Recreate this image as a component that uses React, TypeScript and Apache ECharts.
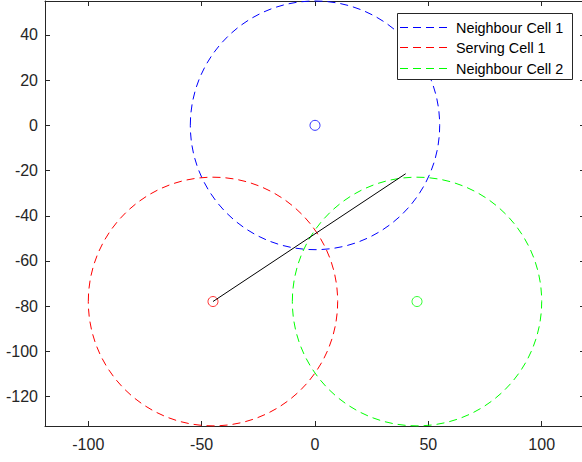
import React, { useEffect, useRef } from "react";
import * as echarts from "echarts";

const cellNames = ["Neighbour Cell 1", "Serving Cell 1", "Neighbour Cell 2"];
const cellX = [0, -45, 45];
const cellY = [0, -77.94, -77.94];
const cellRadius = [55, 55, 55];
const cellColors = ["#0000ff", "#ff0000", "#00ff00"];

const linkX = [-45, 40];
const linkY = [-77.94, -21.4];

const xTicks = [-100, -50, 0, 50, 100];
const yTicks = [-120, -100, -80, -60, -40, -20, 0, 20, 40];

const FONT = "'Liberation Sans', Arial, Helvetica, sans-serif";
const AXIS_COLOR = "#262626";

export default function App() {
  const ref = useRef<HTMLDivElement>(null);

  useEffect(() => {
    if (!ref.current) return;
    const chart = echarts.init(ref.current, undefined, { renderer: "svg" });

    const circleSeries = cellNames.map((name, i) => ({
      type: "custom",
      name,
      xAxisIndex: 0,
      yAxisIndex: 0,
      data: [[cellX[i], cellY[i], cellRadius[i]]],
      renderItem: (params: any, api: any) => {
        const c = api.coord([api.value(0), api.value(1)]);
        const s = api.size([api.value(2), api.value(2)]);
        return {
          type: "ellipse",
          shape: { cx: c[0], cy: c[1], rx: s[0], ry: s[1] },
          style: {
            fill: "none",
            stroke: cellColors[i],
            lineWidth: 1,
            lineDash: [8, 5],
          },
        };
      },
      z: 2,
    }));

    const markerSeries = cellNames.map((name, i) => ({
      type: "scatter",
      name: name + " centre",
      data: [[cellX[i], cellY[i]]],
      symbol: "circle",
      symbolSize: 10,
      itemStyle: {
        color: "rgba(0,0,0,0)",
        borderColor: cellColors[i],
        borderWidth: 1,
      },
      z: 3,
    }));

    const legendRowsY = [27.5, 47.5, 68.5];
    const legendGraphics: any[] = [
      {
        id: "legend-box",
        type: "rect",
        shape: { x: 397.5, y: 13.5, width: 175, height: 66 },
        style: { fill: "#ffffff", stroke: AXIS_COLOR, lineWidth: 1 },
        z: 100,
      },
    ];
    cellNames.forEach((name, i) => {
      legendGraphics.push({
        id: "legend-line-" + i,
        type: "line",
        shape: { x1: 400, y1: legendRowsY[i], x2: 448, y2: legendRowsY[i] },
        style: { stroke: cellColors[i], lineWidth: 1, lineDash: [8, 5] },
        z: 101,
      });
      legendGraphics.push({
        id: "legend-text-" + i,
        type: "text",
        x: 456,
        y: legendRowsY[i],
        style: {
          text: name,
          fill: "#000000",
          font: `14.4px ${FONT}`,
          verticalAlign: "middle",
          textAlign: "left",
        },
        z: 101,
      });
    });

    const xRange = { min: -119.1, max: 119.1 };
    const yRange = { min: -133, max: 55 };

    chart.setOption({
      animation: false,
      backgroundColor: "#ffffff",
      grid: {
        left: 45,
        width: 540,
        top: 1,
        bottom: 36,
        containLabel: false,
        outerBoundsMode: "none",
      },
      xAxis: [
        {
          type: "value",
          position: "bottom",
          ...xRange,
          axisLine: { show: true, onZero: false, lineStyle: { color: AXIS_COLOR, width: 1 } },
          axisTick: { show: true, inside: true, length: 5, customValues: xTicks, lineStyle: { color: AXIS_COLOR } },
          axisLabel: {
            show: true,
            customValues: xTicks,
            color: AXIS_COLOR,
            fontSize: 16,
            fontFamily: FONT,
            margin: 10,
          },
          splitLine: { show: false },
        },
        {
          type: "value",
          position: "top",
          ...xRange,
          axisLine: { show: true, onZero: false, lineStyle: { color: AXIS_COLOR, width: 1 } },
          axisTick: { show: true, inside: true, length: 5, customValues: xTicks, lineStyle: { color: AXIS_COLOR } },
          axisLabel: { show: false },
          splitLine: { show: false },
        },
      ],
      yAxis: [
        {
          type: "value",
          position: "left",
          ...yRange,
          axisLine: { show: true, onZero: false, lineStyle: { color: AXIS_COLOR, width: 1 } },
          axisTick: { show: true, inside: true, length: 5, customValues: yTicks, lineStyle: { color: AXIS_COLOR } },
          axisLabel: {
            show: true,
            customValues: yTicks,
            color: AXIS_COLOR,
            fontSize: 16,
            fontFamily: FONT,
            margin: 7,
          },
          splitLine: { show: false },
        },
        {
          type: "value",
          position: "right",
          ...yRange,
          axisLine: { show: true, onZero: false, lineStyle: { color: AXIS_COLOR, width: 1 } },
          axisTick: { show: true, inside: true, length: 5, customValues: yTicks, lineStyle: { color: AXIS_COLOR } },
          axisLabel: { show: false },
          splitLine: { show: false },
        },
      ],
      series: [
        ...circleSeries,
        ...markerSeries,
        {
          type: "line",
          name: "link",
          data: linkX.map((x, i) => [x, linkY[i]]),
          symbol: "none",
          lineStyle: { color: "#000000", width: 1 },
          z: 4,
        },
      ],
      graphic: legendGraphics,
    });

    return () => chart.dispose();
  }, []);

  return (
    <div
      ref={ref}
      style={{ position: "absolute", left: 0, top: 0, width: 582, height: 462 }}
    />
  );
}
